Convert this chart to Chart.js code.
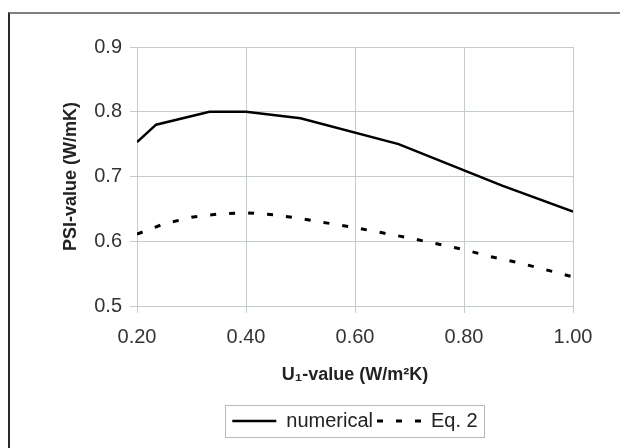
<!DOCTYPE html>
<html lang="en">
<head>
  <meta charset="UTF-8" />
  <title>PSI-value vs U1-value</title>
  <script src="https://cdn.jsdelivr.net/npm/chart.js"></script>
  <style>
    body {
      margin: 0;
      background: #ffffff;
    }

    .wrap {
      position: relative;
      width: 620px;
      height: 448px;
      overflow: hidden;
    }

    /* only the top and left edges of the figure frame are visible */
    .frame {
      position: absolute;
      left: 8px;
      top: 12px;
      width: 700px;
      height: 600px;
      border-top: 2px solid #808080;
      border-left: 2px solid #2a2a2a;
      pointer-events: none;
    }
  </style>
</head>
<body>

<div class="wrap">
  <canvas id="psiChart" width="620" height="448"></canvas>
  <div class="frame"></div>
</div>

<script>
  // numerical results
  const uNumerical = [0.20, 0.235, 0.333, 0.40, 0.50, 0.68, 0.87, 1.00];
  const psiNumerical = [0.753, 0.780, 0.800, 0.800, 0.790, 0.750, 0.686, 0.646];

  // Eq. 2
  const uEq2 = [0.20, 0.25, 0.30, 0.35, 0.40, 0.45, 0.50, 0.55, 0.60, 0.65, 0.70, 0.75, 0.80, 0.85, 0.90, 0.95, 1.00];
  const psiEq2 = [0.611, 0.627, 0.637, 0.642, 0.644, 0.641, 0.635, 0.628, 0.621, 0.613, 0.605, 0.596, 0.587, 0.576, 0.567, 0.556, 0.545];

  const seriesLabels = ["numerical", "Eq. 2"];
  const xTitle = "U\u2081-value (W/m\u00B2K)";
  const yTitle = "PSI-value (W/mK)";

  const toPoints = (xs, ys) => xs.map((x, i) => ({ x, y: ys[i] }));

  const gridColor = "#c5cccc";
  const font = "'Liberation Sans', Arial, sans-serif";

  // border around the legend, like the spreadsheet chart
  const legendFrame = {
    id: "legendFrame",
    afterDraw(chart) {
      const boxes = chart.legend && chart.legend.legendHitBoxes;
      if (!boxes || !boxes.length) return;
      const left = Math.min(...boxes.map(b => b.left)) - 7;
      const right = Math.max(...boxes.map(b => b.left + b.width)) + 7;
      const top = boxes[0].top - 6;
      const bottom = boxes[0].top + boxes[0].height + 6;
      const ctx = chart.ctx;
      ctx.save();
      ctx.strokeStyle = "#b8b8b8";
      ctx.lineWidth = 1;
      ctx.strokeRect(Math.round(left) + 0.5, Math.round(top) + 0.5, Math.round(right - left), Math.round(bottom - top));
      ctx.restore();
    }
  };

  // legend samples take dash and width from the dataset line, not the point
  const legendLabels = chart => {
    const items = Chart.defaults.plugins.legend.labels.generateLabels(chart);
    return items.map(item => {
      const ds = chart.data.datasets[item.datasetIndex];
      item.lineDash = ds.borderDash || [];
      item.lineWidth = ds.borderWidth;
      item.strokeStyle = ds.borderColor;
      return item;
    });
  };

  new Chart(document.getElementById("psiChart"), {
    type: "line",
    data: {
      datasets: [
        {
          label: seriesLabels[0],
          data: toPoints(uNumerical, psiNumerical),
          borderColor: "#000000",
          borderWidth: 2.5,
          pointRadius: 0,
          tension: 0,
          fill: false
        },
        {
          label: seriesLabels[1],
          data: toPoints(uEq2, psiEq2),
          borderColor: "#000000",
          borderWidth: 3,
          borderDash: [6, 13],
          pointRadius: 0,
          tension: 0,
          fill: false
        }
      ]
    },
    options: {
      responsive: false,
      animation: false,
      layout: { padding: { left: 50, right: 47, top: 47, bottom: 7 } },
      plugins: {
        tooltip: { enabled: false },
        legend: {
          position: "bottom",
          fullSize: false,
          labels: {
            usePointStyle: true,
            pointStyle: "line",
            pointStyleWidth: 44,
            padding: 4,
            color: "#222222",
            font: { family: font, size: 20 },
            generateLabels: legendLabels
          }
        }
      },
      scales: {
        x: {
          type: "linear",
          min: 0.2,
          max: 1.0,
          afterFit: scale => { scale.height = 101; },
          ticks: {
            stepSize: 0.2,
            padding: 12,
            color: "#333333",
            font: { family: font, size: 20 },
            callback: v => v.toFixed(2)
          },
          grid: { color: gridColor, tickColor: gridColor, tickLength: 7 },
          border: { color: gridColor },
          title: {
            display: true,
            text: xTitle,
            color: "#222222",
            font: { family: font, size: 18, weight: "bold" },
            padding: { top: 3, bottom: 21 }
          }
        },
        y: {
          min: 0.5,
          max: 0.9,
          afterFit: scale => { scale.width = 87; },
          ticks: {
            stepSize: 0.1,
            padding: 8,
            color: "#333333",
            font: { family: font, size: 20 },
            callback: v => v.toFixed(1)
          },
          grid: { color: gridColor, tickColor: gridColor, tickLength: 7 },
          border: { color: gridColor },
          title: {
            display: true,
            text: yTitle,
            color: "#222222",
            font: { family: font, size: 18, weight: "bold" },
            padding: { top: 10, bottom: 0 }
          }
        }
      }
    },
    plugins: [legendFrame]
  });
</script>

</body>
</html>
